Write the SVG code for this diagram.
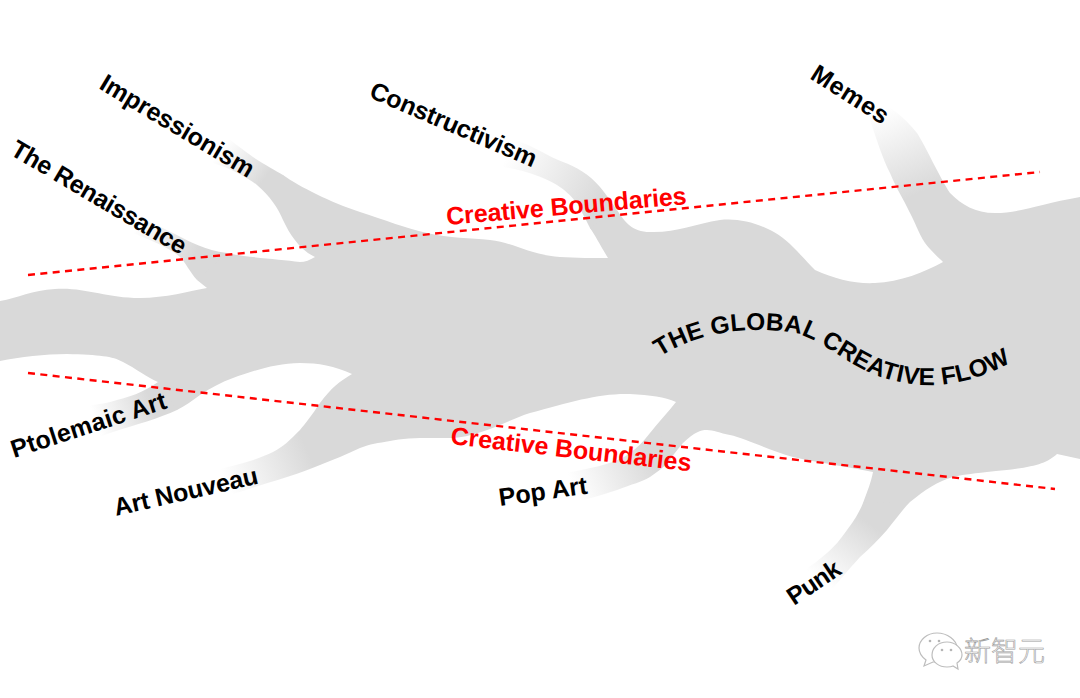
<svg xmlns="http://www.w3.org/2000/svg" width="1080" height="698" viewBox="0 0 1080 698">
<style>
.lbl{font-family:"Liberation Sans",Arial,sans-serif;font-weight:700;font-size:25px;fill:#000}
.flow{font-size:24.5px}
.red{font-family:"Liberation Sans",Arial,sans-serif;font-weight:700;font-size:25px;fill:#f00}
.bound{fill:none;stroke:#f00;stroke-width:2.4;stroke-dasharray:7 5.4}
.trunk{fill:#d9d9d9}
.stop0{stop-color:#d9d9d9;stop-opacity:0}
.stop1{stop-color:#d9d9d9;stop-opacity:1}
.wm{font-family:"Noto Sans CJK SC",sans-serif;font-size:27px;font-weight:300;fill:#fff;stroke:#9a9a9a;stroke-width:.6}
.bub{fill:#fff;stroke:#bdbdbd;stroke-width:1.2}
</style>
<defs>
<linearGradient id="gRen" gradientUnits="userSpaceOnUse" x1="135" y1="226" x2="195" y2="255"><stop offset="0" class="stop0"/><stop offset="1" class="stop1"/></linearGradient>
<linearGradient id="gImp" gradientUnits="userSpaceOnUse" x1="222" y1="148" x2="265" y2="178"><stop offset="0" class="stop0"/><stop offset="1" class="stop1"/></linearGradient>
<linearGradient id="gCon" gradientUnits="userSpaceOnUse" x1="510" y1="150" x2="600" y2="200"><stop offset="0" class="stop0"/><stop offset="1" class="stop1"/></linearGradient>
<linearGradient id="gMem" gradientUnits="userSpaceOnUse" x1="878" y1="112" x2="915" y2="195"><stop offset="0" class="stop0"/><stop offset="1" class="stop1"/></linearGradient>
<linearGradient id="gPto" gradientUnits="userSpaceOnUse" x1="95" y1="420" x2="150" y2="400"><stop offset="0" class="stop0"/><stop offset="1" class="stop1"/></linearGradient>
<linearGradient id="gArt" gradientUnits="userSpaceOnUse" x1="225" y1="480" x2="305" y2="445"><stop offset="0" class="stop0"/><stop offset="1" class="stop1"/></linearGradient>
<linearGradient id="gPop" gradientUnits="userSpaceOnUse" x1="575" y1="490" x2="650" y2="455"><stop offset="0" class="stop0"/><stop offset="1" class="stop1"/></linearGradient>
<linearGradient id="gPun" gradientUnits="userSpaceOnUse" x1="820" y1="580" x2="865" y2="520"><stop offset="0" class="stop0"/><stop offset="1" class="stop1"/></linearGradient>
<path id="flowPath" d="M660,357 C696,333 746,325 796,333 C836,345 856,380 921,385 C956,387 991,375 1018,358"/>
</defs>
<rect width="1080" height="698" fill="#fff"/>
<g id="branch-renaissance">
<path fill="url(#gRen)" d="M150,222 L173,233 C190,242 205,250 227,253 L240,270 L197,280 C190,272 185,262 180,257 C170,248 150,240 133,233 Z"/>
<text class="lbl" transform="translate(9,154) rotate(30.5)" textLength="199" lengthAdjust="spacing">The Renaissance</text>
</g>
<g id="branch-impressionism">
<path fill="url(#gImp)" d="M205,128 L223,135 C235,143 243,150 253,157 C265,165 275,170 283,175 L295,200 L283,220 C278,208 270,196 257,185 C248,178 230,168 213,163 Z"/>
<text class="lbl" transform="translate(98,88) rotate(31)" textLength="175" lengthAdjust="spacing">Impressionism</text>
</g>
<g id="branch-constructivism">
<path fill="url(#gCon)" d="M505,135 L523,143 C540,150 550,157 563,162 C575,166 590,175 600,187 C608,197 612,203 617,210 L600,240 L590,228 C585,218 580,208 577,203 C570,195 565,190 557,185 C545,178 525,170 503,167 Z"/>
<text class="lbl" transform="translate(368,97) rotate(23.2)" textLength="179" lengthAdjust="spacing">Constructivism</text>
</g>
<g id="branch-memes">
<path fill="url(#gMem)" d="M865,98 L877,102 C890,105 905,118 917,133 C925,145 940,178 950,193 L960,230 L925,243 C918,232 915,222 910,213 C903,198 897,190 890,173 C883,160 877,140 870,120 Z"/>
<text class="lbl" transform="translate(809,78) rotate(32.6)" textLength="87" lengthAdjust="spacing">Memes</text>
</g>
<g id="branch-ptolemaic">
<path fill="url(#gPto)" d="M158,382 C150,388 135,396 117,400 C108,403 100,404 85,406 L85,443 C95,438 105,435 113,432 C135,425 160,418 177,410 L190,390 Z"/>
<text class="lbl" transform="translate(14,458) rotate(-18)" textLength="162" lengthAdjust="spacing">Ptolemaic Art</text>
</g>
<g id="branch-nouveau">
<path fill="url(#gArt)" d="M320,403 C312,415 305,424 300,430 C290,440 283,447 273,452 C260,458 245,464 210,471 L210,500 C225,497 245,490 287,477 C300,473 310,469 320,465 L335,430 Z"/>
<text class="lbl" transform="translate(116,516) rotate(-12.8)" textLength="147" lengthAdjust="spacing">Art Nouveau</text>
</g>
<g id="branch-pop">
<path fill="url(#gPop)" d="M650,433 C642,443 637,448 630,453 C618,462 600,467 560,474 L570,504 C585,499 600,496 617,490 C632,484 642,482 650,477 C660,470 665,466 670,460 C675,452 680,447 683,443 L670,430 Z"/>
<text class="lbl" transform="translate(500,506) rotate(-8)" textLength="89" lengthAdjust="spacing">Pop Art</text>
</g>
<g id="branch-punk">
<path fill="url(#gPun)" d="M863,503 C858,515 853,522 847,530 C840,540 835,546 827,553 C820,559 812,565 805,570 L825,597 C835,586 850,568 860,557 C870,548 878,540 887,530 C895,520 903,509 910,502 L885,480 Z"/>
<text class="lbl" transform="translate(794,606) rotate(-34)" textLength="59" lengthAdjust="spacing">Punk</text>
</g>
<g id="trunk">
<path class="trunk" d="M0,301 C18,298 32,290 55,289 C85,287 105,298 140,298 C165,298 190,291 207,288 L197,280 L227,253 C250,258 280,259 300,262 C305,262 310,260 315,257 C300,250 290,235 283,220 L283,175 C300,187 330,202 360,212 C385,220 405,228 427,233 C450,238 470,238 490,240 C515,243 530,255 560,257 C575,258 595,258 608,258 C600,245 595,235 590,228 L617,210 C625,222 632,232 650,232 C675,233 695,224 720,220 C745,217 775,228 793,247 C800,254 808,263 815,270 C835,279 855,284 875,283 C900,282 925,272 943,262 C938,257 932,252 925,243 L950,193 C962,205 975,213 995,213 C1020,213 1040,204 1080,197 L1080,459 L1057,454 C1045,465 1030,468 987,472 C970,474 960,475 953,477 C938,481 925,490 910,502 L863,503 C868,490 871,482 873,472 C850,467 820,463 793,457 C770,451 745,438 730,435 C720,433 713,430 707,430 C700,430 695,432 683,443 L650,433 C658,423 668,412 676,402 C665,397 650,395 630,394 C600,393 570,402 530,413 C505,421 480,437 450,438 C435,438 405,437 390,441 C378,443 370,444 360,448 C347,454 333,460 320,465 L320,403 C331,388 340,381 352,374 C335,366 318,363 300,363 C275,363 250,372 233,378 C222,382 210,388 200,395 C192,401 185,406 177,410 L158,382 C148,378 135,368 123,362 C112,356 100,355 67,354 C45,354 20,357 0,361 Z"/>
<text class="lbl flow"><textPath href="#flowPath" textLength="372" lengthAdjust="spacing">THE GLOBAL CREATIVE FLOW</textPath></text>
</g>
<g id="connectors">
<line class="bound" x1="28" y1="275" x2="1040" y2="172"/>
<line class="bound" x1="28" y1="373" x2="1055" y2="489"/>
</g>
<g id="boundary-labels">
<text class="red" transform="translate(447,225) rotate(-5)" textLength="241" lengthAdjust="spacing">Creative Boundaries</text>
<text class="red" transform="translate(450,444) rotate(6.5)" textLength="242" lengthAdjust="spacing">Creative Boundaries</text>
</g>
<g id="watermark">
<path class="bub" d="M937,633 C927,633 919,640 919,648 C919,653 922,657 926,660 L924,666 L933,662 C935,662 938,662 940,662 C950,662 957,656 957,648 C957,640 947,633 937,633 Z"/>
<path class="bub" d="M947,642 C938,642 932,648 932,655 C932,662 939,667 947,667 C949,667 951,667 953,666 L958,669 L957,663 C960,661 962,658 962,655 C962,648 955,642 947,642 Z"/>
<circle cx="930" cy="641" r="1.3" fill="#b5b5b5"/><circle cx="939" cy="641" r="1.3" fill="#b5b5b5"/>
<circle cx="942" cy="650" r="1.3" fill="#b5b5b5"/><circle cx="951" cy="650" r="1.3" fill="#b5b5b5"/>
<text class="wm" x="964" y="661">新智元</text>
</g>
</svg>
